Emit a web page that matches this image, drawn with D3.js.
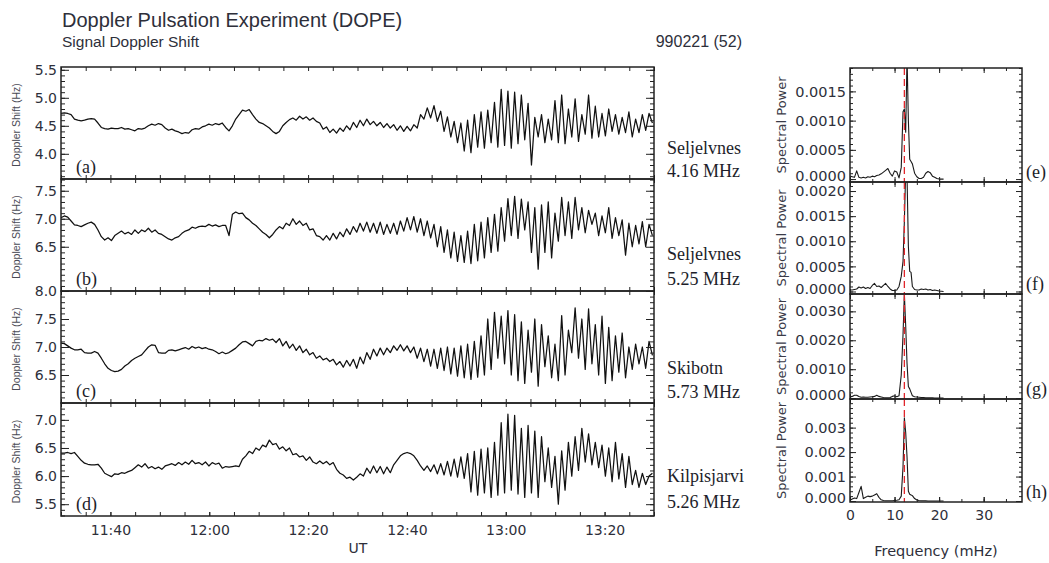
<!DOCTYPE html>
<html>
<head>
<meta charset="utf-8">
<script src="https://cdn.jsdelivr.net/npm/d3@7"></script>
<style>
	body { margin: 0; background: #fff; }
	svg text { fill: #2e2f3a; }
</style>
</head>
<body>
<svg id="chart" width="1049" height="563"></svg>
<script>

// ---------------------------------------------------------------
// data
// ---------------------------------------------------------------

const stationNames = ['Seljelvnes', 'Seljelvnes', 'Skibotn', 'Kilpisjarvi'];
const stationFreqs = ['4.16 MHz', '5.25 MHz', '5.73 MHz', '5.26 MHz'];
const shiftLetters = ['(a)', '(b)', '(c)', '(d)'];
const powerLetters = ['(e)', '(f)', '(g)', '(h)'];

// time axis: 11:30 - 13:30 UT, one sample every 0.68 min
const timeStart = new Date(Date.UTC(1999, 1, 21, 11, 30));
const timeEnd = new Date(Date.UTC(1999, 1, 21, 13, 30));
const sampleStepMin = 0.68;
const timeTickLabels = ['11:40', '12:00', '12:20', '12:40', '13:00', '13:20'];

// y ranges and labelled ticks of the doppler panels (Hz)
const shiftDomains = [[3.55, 5.55], [5.71, 7.71], [6.0, 8.0], [5.29, 7.3]];
const shiftTicks = [[4.0, 4.5, 5.0, 5.5], [6.5, 7.0, 7.5], [6.5, 7.0, 7.5, 8.0], [5.5, 6.0, 6.5, 7.0]];

// doppler shift (Hz), Seljelvnes 4.16 MHz
const shiftA = [
	4.72, 4.73, 4.72, 4.70, 4.62, 4.60, 4.59, 4.60, 4.62, 4.63,
	4.62, 4.55, 4.47, 4.45, 4.44, 4.46, 4.45, 4.45, 4.47, 4.44,
	4.45, 4.43, 4.41, 4.45, 4.44, 4.46, 4.50, 4.53, 4.51, 4.54,
	4.52, 4.46, 4.42, 4.44, 4.41, 4.39, 4.36, 4.38, 4.37, 4.43,
	4.45, 4.44, 4.48, 4.50, 4.53, 4.51, 4.54, 4.52, 4.55, 4.47,
	4.41, 4.50, 4.62, 4.70, 4.78, 4.76, 4.79, 4.70, 4.62, 4.56,
	4.54, 4.50, 4.46, 4.40, 4.36, 4.40, 4.50, 4.56, 4.61, 4.64,
	4.60, 4.67, 4.62, 4.66, 4.60, 4.64, 4.58, 4.55, 4.44, 4.48,
	4.38, 4.44, 4.37, 4.46, 4.40, 4.50, 4.43, 4.56, 4.47, 4.60,
	4.50, 4.62, 4.52, 4.58, 4.50, 4.56, 4.47, 4.54, 4.46, 4.52,
	4.42, 4.50, 4.40, 4.49, 4.41, 4.52, 4.46, 4.70, 4.62, 4.82,
	4.64, 4.86, 4.58, 4.76, 4.40, 4.66, 4.30, 4.58, 4.20, 4.55,
	4.05, 4.60, 4.02, 4.70, 4.12, 4.75, 4.10, 4.78, 4.20, 4.92,
	4.12, 5.15, 4.15, 5.12, 4.10, 5.10, 4.18, 5.05, 4.25, 4.90,
	3.80, 4.65, 4.30, 4.70, 4.20, 4.62, 4.25, 4.95, 4.20, 5.05,
	4.18, 4.80, 4.30, 4.98, 4.22, 4.70, 4.35, 5.05, 4.28, 4.85,
	4.30, 4.72, 4.32, 4.80, 4.40, 4.70, 4.35, 4.65, 4.38, 4.75,
	4.30, 4.62, 4.38, 4.70, 4.42, 4.72, 4.55
];

// doppler shift (Hz), Seljelvnes 5.25 MHz
const shiftB = [
	7.02, 7.05, 7.03, 6.96, 6.89, 6.88, 6.86, 6.89, 6.92, 6.94,
	6.90, 6.80, 6.68, 6.62, 6.66, 6.61, 6.70, 6.74, 6.78, 6.73,
	6.76, 6.72, 6.80, 6.74, 6.80, 6.77, 6.83, 6.76, 6.80, 6.74,
	6.72, 6.68, 6.64, 6.62, 6.66, 6.68, 6.74, 6.78, 6.80, 6.85,
	6.83, 6.86, 6.87, 6.86, 6.90, 6.87, 6.89, 6.86, 6.88, 6.88,
	6.70, 7.08, 7.12, 7.09, 7.10, 7.02, 6.98, 6.92, 6.88, 6.82,
	6.76, 6.72, 6.66, 6.72, 6.80, 6.86, 6.82, 6.92, 6.88, 7.00,
	6.90, 6.96, 6.88, 6.92, 6.80, 6.82, 6.70, 6.68, 6.62, 6.70,
	6.62, 6.74, 6.64, 6.76, 6.68, 6.82, 6.72, 6.86, 6.76, 6.92,
	6.78, 6.94, 6.76, 6.92, 6.74, 6.94, 6.72, 6.90, 6.74, 6.92,
	6.72, 6.96, 6.78, 7.02, 6.80, 7.04, 6.76, 7.00, 6.70, 6.96,
	6.66, 6.90, 6.50, 6.86, 6.40, 6.80, 6.30, 6.76, 6.24, 6.70,
	6.22, 6.78, 6.20, 6.90, 6.25, 6.94, 6.30, 7.02, 6.40, 7.08,
	6.42, 7.20, 6.60, 7.36, 6.70, 7.40, 6.65, 7.35, 6.80, 7.30,
	6.40, 7.20, 6.10, 7.25, 6.40, 7.30, 6.30, 7.10, 6.60, 7.38,
	6.70, 7.30, 6.65, 7.38, 6.80, 7.20, 6.75, 7.15, 6.90, 7.10,
	6.70, 7.05, 6.75, 7.20, 6.65, 7.02, 6.70, 6.98, 6.35, 6.92,
	6.50, 6.88, 6.55, 6.95, 6.50, 6.90, 6.70
];

// doppler shift (Hz), Skibotn 5.73 MHz
const shiftC = [
	7.07, 7.06, 7.02, 6.98, 6.95, 6.95, 6.96, 6.90, 6.89, 6.89,
	6.92, 6.89, 6.80, 6.70, 6.62, 6.58, 6.56, 6.57, 6.60, 6.66,
	6.70, 6.76, 6.80, 6.83, 6.86, 6.93, 7.00, 7.04, 7.03, 6.90,
	6.89, 6.89, 6.94, 6.95, 6.93, 6.95, 6.97, 6.99, 6.96, 7.01,
	6.98, 7.00, 6.97, 6.99, 6.96, 6.95, 6.92, 6.88, 6.91, 6.88,
	6.90, 6.94, 6.98, 7.04, 7.09, 7.10, 7.06, 7.02, 7.10, 7.12,
	7.11, 7.15, 7.12, 7.14, 7.08, 7.15, 7.02, 7.10, 6.98, 7.05,
	6.94, 7.02, 6.90, 6.96, 6.86, 6.90, 6.80, 6.84, 6.77, 6.80,
	6.74, 6.78, 6.68, 6.74, 6.64, 6.76, 6.66, 6.78, 6.62, 6.82,
	6.70, 6.90, 6.78, 6.96, 6.84, 6.98, 6.86, 6.98, 6.90, 7.02,
	6.94, 7.04, 6.93, 7.02, 6.90, 7.00, 6.80, 6.98, 6.74, 6.96,
	6.66, 6.96, 6.62, 6.98, 6.58, 7.00, 6.52, 6.98, 6.48, 7.02,
	6.45, 7.05, 6.42, 7.10, 6.46, 7.20, 6.50, 7.50, 6.60, 7.62,
	6.80, 7.55, 6.70, 7.65, 6.50, 7.58, 6.40, 7.45, 6.35, 7.30,
	6.55, 7.50, 6.30, 7.40, 6.65, 7.20, 6.45, 7.05, 6.40, 7.56,
	6.50, 7.30, 6.90, 7.70, 6.80, 7.50, 6.60, 7.68, 6.70, 7.40,
	6.50, 7.55, 6.35, 7.35, 6.40, 7.20, 6.55, 7.25, 6.45, 7.00,
	6.60, 7.05, 6.70, 7.00, 6.62, 7.10, 6.85
];

// doppler shift (Hz), Kilpisjarvi 5.26 MHz
const shiftD = [
	6.41, 6.41, 6.42, 6.40, 6.42, 6.35, 6.28, 6.23, 6.21, 6.20,
	6.20, 6.21, 6.14, 6.05, 6.02, 5.99, 6.04, 6.03, 6.06, 6.05,
	6.08, 6.10, 6.15, 6.20, 6.16, 6.22, 6.14, 6.17, 6.13, 6.16,
	6.12, 6.18, 6.20, 6.22, 6.19, 6.24, 6.20, 6.25, 6.21, 6.28,
	6.22, 6.24, 6.20, 6.25, 6.18, 6.24, 6.21, 6.23, 6.14, 6.17,
	6.16, 6.17, 6.18, 6.17, 6.30, 6.36, 6.44, 6.40, 6.50, 6.46,
	6.55, 6.52, 6.64, 6.56, 6.58, 6.48, 6.52, 6.45, 6.50, 6.38,
	6.40, 6.34, 6.36, 6.28, 6.34, 6.25, 6.22, 6.27, 6.22, 6.26,
	6.20, 6.24, 6.12, 6.05, 6.02, 5.96, 5.98, 5.93, 5.98, 6.04,
	6.00, 6.14, 6.05, 6.18, 6.06, 6.17, 6.04, 6.16, 6.06, 6.20,
	6.28, 6.36, 6.40, 6.42, 6.40, 6.36, 6.28, 6.18, 6.10, 6.18,
	6.08, 6.20, 6.04, 6.22, 6.02, 6.26, 6.00, 6.30, 5.98, 6.34,
	5.96, 6.40, 5.72, 6.44, 5.66, 6.48, 5.70, 6.50, 5.62, 6.60,
	5.66, 6.95, 5.70, 7.10, 5.75, 7.08, 5.68, 6.85, 5.62, 6.90,
	5.70, 6.80, 5.62, 6.70, 5.90, 6.50, 5.80, 6.35, 5.50, 6.45,
	5.75, 6.60, 6.00, 6.70, 6.10, 6.85, 6.25, 6.75, 6.20, 6.60,
	6.15, 6.55, 6.00, 6.50, 5.90, 6.60, 5.95, 6.40, 5.80, 6.35,
	5.85, 6.10, 5.80, 6.05, 5.85, 6.00, 6.05
];

// spectra: frequency bins (mHz) and power in units of 1e-4
const freqs = [
	0, 0.5, 1, 1.5, 2, 2.5, 3, 3.5, 4, 4.5,
	5, 5.5, 6, 6.5, 7, 7.5, 8, 8.5, 9, 9.5,
	10, 10.5, 11, 11.5, 11.9, 12.2, 12.5, 12.8, 13.1, 13.4,
	13.7, 14, 14.5, 15, 15.5, 16, 16.5, 17, 17.5, 18,
	18.5, 19, 19.5, 20, 21
];
const powerE = [
	0.5, 0.4, 0.3, 1.4, 0.3, 0.2, 0.3, 0.2, 0.4, 0.3,
	0.5, 0.4, 0.6, 0.7, 0.9, 1.2, 1.5, 1.8, 1.0, 0.5,
	1.4, 1.2, 0.2, 2.0, 11.5, 12.0, 8.0, 21.0, 10.0, 3.4,
	3.0, 2.6, 1.0, 0.4, 0.1, 0.1, 0.3, 1.0, 1.3, 1.1,
	0.5, 0.3, 0.1, 0, 0
];
const powerF = [
	0.3, 0.3, 0.4, 0.5, 0.9, 0.7, 0.9, 0.6, 0.8, 0.6,
	1.2, 1.6, 1.0, 1.1, 0.8, 1.2, 1.6, 1.0, 0.5, 0.2,
	0.2, 0.3, 1.0, 3.0, 6.0, 14.0, 24.0, 23.0, 9.0, 4.0,
	3.8, 1.0, 0.4, 0.3, 0.3, 0.5, 0.4, 0.5, 0.3, 0.4,
	0.2, 0.3, 0.2, 0.1, 0
];
const powerG = [
	0.4, 0.6, 1.0, 1.0, 0.6, 0.3, 0.4, 0.3, 0.3, 0.4,
	0.5, 0.6, 1.0, 0.6, 0.4, 0.2, 0.1, 0.1, 0.2, 0.6,
	0.8, 0.5, 0.8, 8.0, 22.0, 36.0, 25.0, 12.0, 4.0, 3.2,
	2.0, 0.8, 0.5, 0.4, 0.3, 0.2, 0.2, 0.1, 0.1, 0.1,
	0.1, 0, 0, 0, 0
];
const powerH = [
	0.3, 0.8, 1.2, 1.0, 3.5, 6.0, 1.0, 1.5, 2.0, 1.8,
	2.0, 2.5, 3.0, 1.5, 0.5, 0.2, 0.1, 0.1, 0.1, 0.1,
	0.2, 0.3, 0.5, 2.0, 14.0, 34.0, 28.0, 18.0, 4.0, 2.8,
	2.5, 2.2, 1.0, 0.4, 0.2, 0.1, 0.1, 0.1, 0, 0,
	0, 0, 0, 0, 0
];
const powerUnit = 1e-4;
const peakFreq = 12.2;// dashed red marker (mHz)

const freqDomain = [0, 38.6];
const freqTickLabels = [0, 10, 20, 30];
const powerDomains = [[-0.00005, 0.0019], [-0.00005, 0.00218], [-0.00003, 0.0036], [-0.00004, 0.00417]];
const powerTicks = [[0, 0.0005, 0.001, 0.0015], [0, 0.0005, 0.001, 0.0015, 0.002], [0, 0.001, 0.002, 0.003], [0, 0.001, 0.002, 0.003]];
const powerFormats = ['.4f', '.4f', '.4f', '.3f'];
const powerMinorSteps = [0.0001, 0.0001, 0.0002, 0.0002];

const seriesShift = [shiftA, shiftB, shiftC, shiftD];
const seriesPower = [powerE, powerF, powerG, powerH];


// ---------------------------------------------------------------
// layout
// ---------------------------------------------------------------

const sansFont = '"Liberation Sans", Arial, sans-serif',
	tickFont = '"DejaVu Sans", Verdana, sans-serif',
	serifFont = '"Liberation Serif", "Times New Roman", serif';

const shiftPanel = {left: 61, right: 654, bounds: [67, 179, 291, 403, 516]};
const powerPanel = {left: 850, right: 1022, bounds: [68, 182, 294, 399, 502]};
// station label baselines, relative to bottom of panel
const stationOffsets = [[-25, -2], [-31, -6], [-29, -5], [-34, -8]];

const svg = d3.select('#chart');
const defs = svg.append('defs');

const timeScale = d3.scaleUtc()
	.domain([timeStart, timeEnd])
	.range([shiftPanel.left, shiftPanel.right]);

const freqScale = d3.scaleLinear()
	.domain(freqDomain)
	.range([powerPanel.left, powerPanel.right]);


/**
* time of sample i
* @param {number} i index of the sample
* @returns {Date}
*/
function sampleTime(i) {
	return new Date(timeStart.getTime() + i * sampleStepMin * 60000);
}


/**
* parse 'hh:mm' to a date on the day of the event
* @returns {Date}
*/
function parseTime(str) {
	let parts = str.split(':');
	return new Date(Date.UTC(1999, 1, 21, +parts[0], +parts[1]));
}


/**
* append an axis, drop its domain line and style ticks
* @returns {object} the axis group
*/
function addAxis(g, axis, tx, ty, fontFamily, fontSize) {
	let a = g.append('g')
		.attr('transform', 'translate(' + tx + ',' + ty + ')')
		.call(axis);
	a.select('.domain').remove();
	a.selectAll('line').attr('stroke', '#222').attr('stroke-width', 1);
	a.attr('font-family', fontFamily || tickFont)
		.attr('font-size', fontSize || 14);
	a.selectAll('text').attr('fill', '#2e2f3a');
	return a;
}


/**
* minor tick values between the ends of a domain
* @returns {array}
*/
function minorTicks(domain, step) {
	let lo = Math.ceil(domain[0] / step - 1e-6),
		hi = Math.floor(domain[1] / step + 1e-6);
	return d3.range(lo, hi + 1).map(k => +(k * step).toFixed(6));
}


/**
* draw one doppler shift panel (a-d)
* @returns {undefined}
*/
function drawShiftPanel(k) {
	let top = shiftPanel.bounds[k],
		bottom = shiftPanel.bounds[k + 1],
		left = shiftPanel.left,
		right = shiftPanel.right,
		isLast = (k === seriesShift.length - 1);

	let y = d3.scaleLinear()
		.domain(shiftDomains[k])
		.range([bottom, top]);

	let g = svg.append('g').attr('class', 'shift-panel');

	defs.append('clipPath')
		.attr('id', 'clip-shift-' + k)
		.append('rect')
		.attr('x', left).attr('y', top)
		.attr('width', right - left).attr('height', bottom - top);

	let line = d3.line()
		.x((d, i) => timeScale(sampleTime(i)))
		.y(d => y(d));

	g.append('path')
		.datum(seriesShift[k])
		.attr('clip-path', 'url(#clip-shift-' + k + ')')
		.attr('fill', 'none')
		.attr('stroke', '#111')
		.attr('stroke-width', 1.25)
		.attr('stroke-linejoin', 'round')
		.attr('d', line);

	// ticks on all four sides, pointing inward
	let minuteTicks = d3.utcMinute.every(5).range(timeStart, new Date(timeEnd.getTime() + 1));
	addAxis(g, d3.axisBottom(timeScale).tickValues(minuteTicks).tickSizeInner(-4).tickSizeOuter(0).tickFormat(''), 0, bottom);
	addAxis(g, d3.axisTop(timeScale).tickValues(minuteTicks).tickSizeInner(-4).tickSizeOuter(0).tickFormat(''), 0, top);

	let yMinor = minorTicks(shiftDomains[k], 0.1);
	addAxis(g, d3.axisLeft(y).tickValues(yMinor).tickSizeInner(-4).tickSizeOuter(0).tickFormat(''), left, 0);
	addAxis(g, d3.axisRight(y).tickValues(yMinor).tickSizeInner(-4).tickSizeOuter(0).tickFormat(''), right, 0);
	addAxis(g, d3.axisLeft(y).tickValues(shiftTicks[k]).tickSizeInner(-8).tickSizeOuter(0).tickPadding(4).tickFormat(d3.format('.1f')), left, 0);
	addAxis(g, d3.axisRight(y).tickValues(shiftTicks[k]).tickSizeInner(-8).tickSizeOuter(0).tickFormat(''), right, 0);

	if (isLast) {
		addAxis(g, d3.axisBottom(timeScale)
			.tickValues(timeTickLabels.map(parseTime))
			.tickSizeInner(-4).tickSizeOuter(0).tickPadding(9)
			.tickFormat(d3.utcFormat('%H:%M')), 0, bottom);
	}

	// frame
	g.append('rect')
		.attr('x', left).attr('y', top)
		.attr('width', right - left).attr('height', bottom - top)
		.attr('fill', 'none')
		.attr('stroke', '#222')
		.attr('stroke-width', 1.5);

	// y title
	g.append('text')
		.attr('transform', 'translate(20,' + ((top + bottom) / 2 + 2) + ') rotate(-90)')
		.attr('text-anchor', 'middle')
		.attr('font-family', sansFont)
		.attr('font-size', 10.5)
		.style('fill', '#4a4b55')
		.text('Doppler Shift (Hz)');

	// panel letter
	g.append('text')
		.attr('x', 76).attr('y', bottom - 6)
		.attr('font-family', serifFont)
		.attr('font-size', 18)
		.style('fill', '#1d1e2a')
		.text(shiftLetters[k]);

	// station and frequency
	g.append('text')
		.attr('x', 667).attr('y', bottom + stationOffsets[k][0])
		.attr('font-family', serifFont)
		.attr('font-size', 18)
		.style('fill', '#1d1e2a')
		.text(stationNames[k]);
	g.append('text')
		.attr('x', 667).attr('y', bottom + stationOffsets[k][1])
		.attr('font-family', serifFont)
		.attr('font-size', 18)
		.style('fill', '#1d1e2a')
		.text(stationFreqs[k]);
}


/**
* draw one spectral power panel (e-h)
* @returns {undefined}
*/
function drawPowerPanel(k) {
	let top = powerPanel.bounds[k],
		bottom = powerPanel.bounds[k + 1],
		left = powerPanel.left,
		right = powerPanel.right,
		isLast = (k === seriesPower.length - 1);

	let y = d3.scaleLinear()
		.domain(powerDomains[k])
		.range([bottom, top]);

	let g = svg.append('g').attr('class', 'power-panel');

	defs.append('clipPath')
		.attr('id', 'clip-power-' + k)
		.append('rect')
		.attr('x', left).attr('y', top)
		.attr('width', right - left).attr('height', bottom - top);

	let line = d3.line()
		.x((d, i) => freqScale(freqs[i]))
		.y(d => y(d * powerUnit));

	g.append('path')
		.datum(seriesPower[k])
		.attr('clip-path', 'url(#clip-power-' + k + ')')
		.attr('fill', 'none')
		.attr('stroke', '#1a1a1a')
		.attr('stroke-width', 1.1)
		.attr('stroke-linejoin', 'round')
		.attr('d', line);

	// red dashed line at the peak frequency
	g.append('line')
		.attr('x1', freqScale(peakFreq)).attr('x2', freqScale(peakFreq))
		.attr('y1', top).attr('y2', bottom)
		.attr('stroke', '#e0262c')
		.attr('stroke-width', 1.3)
		.attr('stroke-dasharray', '7,4');

	let fMinor = d3.range(0, freqDomain[1], 5);
	addAxis(g, d3.axisBottom(freqScale).tickValues(fMinor).tickSizeInner(-3).tickSizeOuter(0).tickFormat(''), 0, bottom);
	addAxis(g, d3.axisTop(freqScale).tickValues(fMinor).tickSizeInner(-3).tickSizeOuter(0).tickFormat(''), 0, top);
	addAxis(g, d3.axisBottom(freqScale).tickValues(freqTickLabels).tickSizeInner(-5).tickSizeOuter(0).tickFormat(''), 0, bottom);
	addAxis(g, d3.axisTop(freqScale).tickValues(freqTickLabels).tickSizeInner(-5).tickSizeOuter(0).tickFormat(''), 0, top);

	let yMinor = minorTicks(powerDomains[k], powerMinorSteps[k]);
	addAxis(g, d3.axisLeft(y).tickValues(yMinor).tickSizeInner(-3).tickSizeOuter(0).tickFormat(''), left, 0);
	addAxis(g, d3.axisRight(y).tickValues(yMinor).tickSizeInner(-3).tickSizeOuter(0).tickFormat(''), right, 0);
	let yLabels = addAxis(g, d3.axisLeft(y).tickValues(powerTicks[k]).tickSizeInner(-6).tickSizeOuter(0).tickPadding(4)
		.tickFormat(d3.format(powerFormats[k])), left, 0, tickFont, 14.5);
	// the zero label sits a little above the baseline, as in the original
	yLabels.selectAll('.tick text')
		.filter(d => d === 0)
		.attr('y', -3);
	addAxis(g, d3.axisRight(y).tickValues(powerTicks[k]).tickSizeInner(-6).tickSizeOuter(0).tickFormat(''), right, 0);

	if (isLast) {
		addAxis(g, d3.axisBottom(freqScale).tickValues(freqTickLabels)
			.tickSizeInner(-5).tickSizeOuter(0).tickPadding(8)
			.tickFormat(d3.format('d')), 0, bottom, tickFont, 14);
	}

	g.append('rect')
		.attr('x', left).attr('y', top)
		.attr('width', right - left).attr('height', bottom - top)
		.attr('fill', 'none')
		.attr('stroke', '#222')
		.attr('stroke-width', 1.5);

	g.append('text')
		.attr('transform', 'translate(786,' + ((top + bottom) / 2) + ') rotate(-90)')
		.attr('text-anchor', 'middle')
		.attr('font-family', tickFont)
		.attr('font-size', 13)
		.style('fill', '#3a3b48')
		.text('Spectral Power');

	g.append('text')
		.attr('x', 1026).attr('y', bottom - 4)
		.attr('font-family', serifFont)
		.attr('font-size', 18)
		.style('fill', '#1d1e2a')
		.text(powerLetters[k]);
}


// ---------------------------------------------------------------
// draw
// ---------------------------------------------------------------

svg.append('text')
	.attr('x', 62).attr('y', 27)
	.attr('font-family', sansFont)
	.attr('font-size', 20)
	.text('Doppler Pulsation Experiment (DOPE)');

svg.append('text')
	.attr('x', 62).attr('y', 47)
	.attr('font-family', sansFont)
	.attr('font-size', 15.5)
	.text('Signal Doppler Shift');

svg.append('text')
	.attr('x', 742).attr('y', 47)
	.attr('text-anchor', 'end')
	.attr('font-family', sansFont)
	.attr('font-size', 16)
	.text('990221 (52)');

seriesShift.forEach((s, k) => drawShiftPanel(k));
seriesPower.forEach((s, k) => drawPowerPanel(k));

svg.append('text')
	.attr('x', 358).attr('y', 553)
	.attr('text-anchor', 'middle')
	.attr('font-family', tickFont)
	.attr('font-size', 14)
	.text('UT');

svg.append('text')
	.attr('x', 936).attr('y', 556)
	.attr('text-anchor', 'middle')
	.attr('font-family', tickFont)
	.attr('font-size', 14.5)
	.text('Frequency (mHz)');

</script>
</body>
</html>
